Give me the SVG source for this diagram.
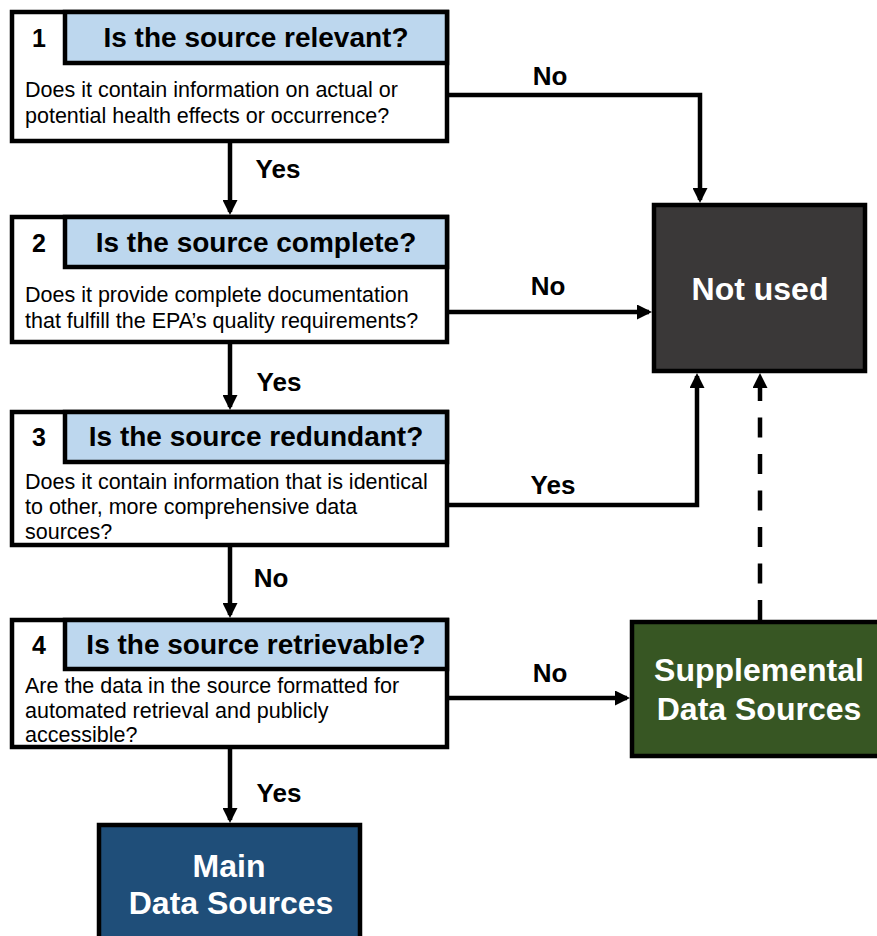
<svg xmlns="http://www.w3.org/2000/svg" width="877" height="936" viewBox="0 0 877 936">
<style>
text{font-family:"Liberation Sans",Arial,sans-serif;}
.box{fill:#ffffff;stroke:#000;stroke-width:4.5;}
.hdr{fill:#BDD7EE;stroke:#000;stroke-width:4.5;}
.num{font-size:25px;font-weight:bold;fill:#000;text-anchor:middle;}
.ttl{font-size:28px;font-weight:bold;fill:#000;text-anchor:middle;}
.body{font-size:21.5px;fill:#000;}
.lbl{font-size:26px;font-weight:bold;fill:#000;text-anchor:middle;}
.big{font-size:32px;font-weight:bold;fill:#fff;text-anchor:middle;}
.con{fill:none;stroke:#000;stroke-width:4.5;marker-end:url(#ah);}
.dash{stroke-dasharray:20 16.5;}
</style>
<defs>
<marker id="ah" markerUnits="userSpaceOnUse" markerWidth="15" markerHeight="15" viewBox="0 0 15 15" refX="12" refY="7.5" orient="auto">
<path d="M0,0 L15,7.5 L0,15 z" fill="#000"/>
</marker>
</defs>

<g id="connectors">
<path class="con" d="M447,95 H700 V200"/>
<path class="con" d="M230,141 V212"/>
<path class="con" d="M447,312 H649"/>
<path class="con" d="M230,342 V407"/>
<path class="con" d="M447,505 H697 V376"/>
<path class="con" d="M230,545 V615"/>
<path class="con" d="M447,698 H627"/>
<path class="con" d="M230,747 V820"/>
<path class="con dash" d="M760,620 V376"/>
<text class="lbl" x="550" y="85">No</text>
<text class="lbl" x="278" y="178">Yes</text>
<text class="lbl" x="548" y="295">No</text>
<text class="lbl" x="279" y="391">Yes</text>
<text class="lbl" x="553" y="494">Yes</text>
<text class="lbl" x="271" y="587">No</text>
<text class="lbl" x="550" y="682">No</text>
<text class="lbl" x="279" y="802">Yes</text>
</g>

<g id="q1">
<rect class="box" x="12" y="12" width="435" height="129"/>
<rect class="hdr" x="65" y="12" width="382" height="51"/>
<text class="num" x="39" y="47">1</text>
<text class="ttl" x="256" y="47">Is the source relevant?</text>
<text class="body" x="25" y="97">Does it contain information on actual or</text>
<text class="body" x="25" y="123">potential health effects or occurrence?</text>
</g>

<g id="q2">
<rect class="box" x="12" y="217" width="435" height="125"/>
<rect class="hdr" x="65" y="217" width="382" height="50"/>
<text class="num" x="39" y="252">2</text>
<text class="ttl" x="256" y="252">Is the source complete?</text>
<text class="body" x="25" y="302">Does it provide complete documentation</text>
<text class="body" x="25" y="328">that fulfill the EPA’s quality requirements?</text>
</g>

<g id="q3">
<rect class="box" x="12" y="412" width="435" height="133"/>
<rect class="hdr" x="65" y="412" width="382" height="50"/>
<text class="num" x="39" y="446">3</text>
<text class="ttl" x="256" y="446">Is the source redundant?</text>
<text class="body" x="25" y="489">Does it contain information that is identical</text>
<text class="body" x="25" y="514">to other, more comprehensive data</text>
<text class="body" x="25" y="539">sources?</text>
</g>

<g id="q4">
<rect class="box" x="12" y="620" width="435" height="127"/>
<rect class="hdr" x="65" y="620" width="382" height="49"/>
<text class="num" x="39" y="654">4</text>
<text class="ttl" x="256" y="654">Is the source retrievable?</text>
<text class="body" x="25" y="693">Are the data in the source formatted for</text>
<text class="body" x="25" y="718">automated retrieval and publicly</text>
<text class="body" x="25" y="742">accessible?</text>
</g>

<g id="notused">
<rect x="654" y="205" width="211" height="166" fill="#3A3838" stroke="#000" stroke-width="4.5"/>
<text class="big" x="760" y="300">Not used</text>
</g>

<g id="supplemental">
<rect x="632" y="622" width="252" height="134" fill="#375623" stroke="#000" stroke-width="4.5"/>
<text class="big" x="759" y="681">Supplemental</text>
<text class="big" x="759" y="720">Data Sources</text>
</g>

<g id="main">
<rect x="99" y="825" width="261" height="125" fill="#1F4E79" stroke="#000" stroke-width="4.5"/>
<text class="big" x="229" y="877">Main</text>
<text class="big" x="231" y="914">Data Sources</text>
</g>
</svg>
